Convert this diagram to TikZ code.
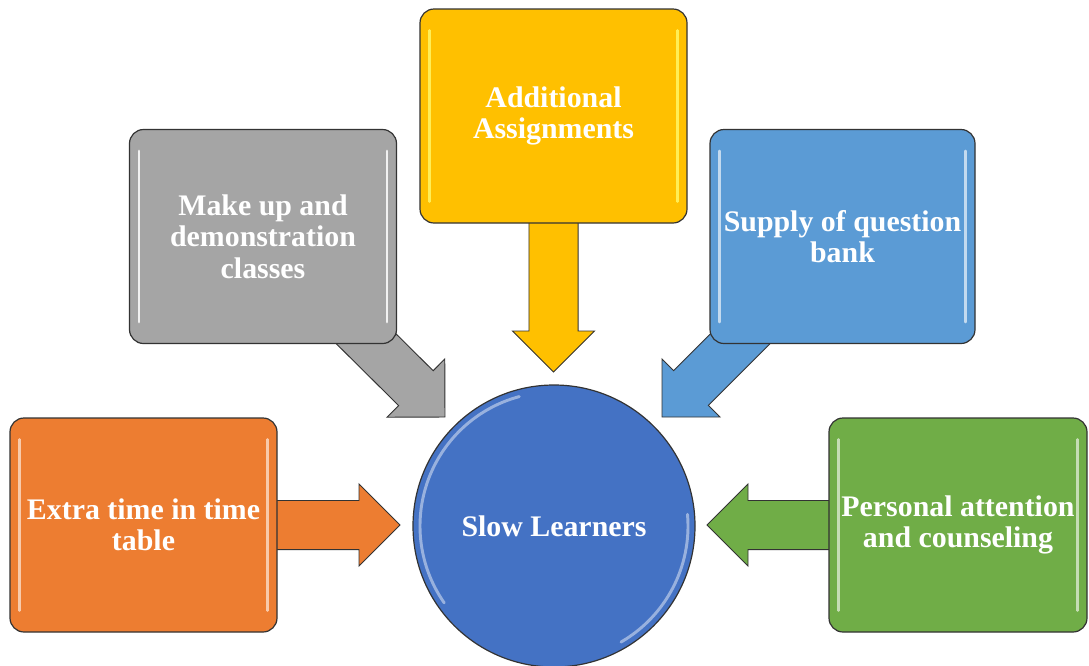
\documentclass[tikz,border=0pt]{standalone}
\usepackage{fontspec}
\setmainfont{Liberation Serif}
\usetikzlibrary{calc}
\definecolor{cOrange}{HTML}{ED7D31}
\definecolor{cGray}{HTML}{A5A5A5}
\definecolor{cYellow}{HTML}{FFC000}
\definecolor{cBlue}{HTML}{5B9BD5}
\definecolor{cGreen}{HTML}{70AD47}
\definecolor{cHub}{HTML}{4472C4}
\definecolor{cEdge}{HTML}{333333}
\tikzset{
  box/.style={draw=cEdge, line width=0.9pt, rounded corners=10.5pt,
    minimum width=200.25pt, minimum height=160.5pt, inner sep=0pt,
    text=white, align=center, font=\bfseries\fontsize{22.4}{23.5}\selectfont},
  hub/.style={circle, draw=cEdge, line width=0.9pt, fill=cHub,
    minimum size=211.5pt, inner sep=0pt, text=white,
    font=\bfseries\fontsize{22.4}{23.5}\selectfont},
  blockarrow/.style={draw=cEdge, line width=0.7pt, line join=miter},
  shine/.style={line width=1.9pt, line cap=round, opacity=0.85},
}
\newcommand\BlkArrow[3]{%
  \coordinate (ah) at ($(#2)!30.75pt!(#1)$);
  \draw[blockarrow, fill=#3] ($(#1)!18.4pt!90:(#2)$) -- ($(ah)!18.4pt!90:(#2)$)
    -- ($(ah)!30.75pt!90:(#2)$) -- (#2) -- ($(ah)!30.75pt!-90:(#2)$)
    -- ($(ah)!18.4pt!-90:(#2)$) -- ($(#1)!18.4pt!-90:(#2)$) -- cycle;
}
\newcommand\BoxShine[2]{%
  \draw[shine, draw=#2] ($(#1.north west)+(10,22)$) -- ($(#1.south west)+(10,-22)$);
  \draw[shine, draw=#2] ($(#1.north east)+(-10,22)$) -- ($(#1.south east)+(-10,-22)$);
}
\begin{document}
\begin{tikzpicture}[x=0.75pt,y=-0.75pt]
\useasboundingbox (0,0) rectangle (1089,665);
% tips of the block arrows
\coordinate (tOrange) at (400,525);
\coordinate (tGray) at (445,417);
\coordinate (tYellow) at (553.5,372);
\coordinate (tBlue) at (662,417);
\coordinate (tGreen) at (707,525);
% node centres (for arrow tails)
\coordinate (pOrange) at (143.5,525);
\coordinate (pGray) at (263,236.5);
\coordinate (pYellow) at (553.5,116);
\coordinate (pBlue) at (842.5,236.5);
\coordinate (pGreen) at (958,525);
% arrows behind the boxes
\BlkArrow{pOrange}{tOrange}{cOrange}
\BlkArrow{pGray}{tGray}{cGray}
\BlkArrow{pYellow}{tYellow}{cYellow}
\BlkArrow{pBlue}{tBlue}{cBlue}
\BlkArrow{pGreen}{tGreen}{cGreen}
% boxes
\node[box, fill=cOrange] (orange) at (pOrange) {Extra time in time\\table};
\node[box, fill=cGray] (gray) at (pGray) {Make up and\\demonstration\\classes};
\node[box, fill=cYellow] (yellow) at (pYellow) {Additional\\Assignments};
\node[box, fill=cBlue, minimum width=198.75pt] (blue) at (pBlue) {Supply of question\\bank};
\node[box, fill=cGreen, minimum width=193.5pt] (green) at (pGreen) {Personal attention\\and counseling};
\BoxShine{orange}{cOrange!30!white}
\BoxShine{gray}{white}
\BoxShine{yellow}{yellow!60!white}
\BoxShine{blue}{cBlue!25!white}
\BoxShine{green}{cGreen!30!white}
% hub
\node[hub] (hub) at (554,526) {Slow Learners};
\draw[white, opacity=0.45, line width=2.2pt, line cap=round]
  ($(hub.center)+(-105:134)$) arc[start angle=-105, end angle=-215, radius=134];
\draw[white, opacity=0.45, line width=2.2pt, line cap=round]
  ($(hub.center)+(60:134)$) arc[start angle=60, end angle=-5, radius=134];
\end{tikzpicture}
\end{document}
